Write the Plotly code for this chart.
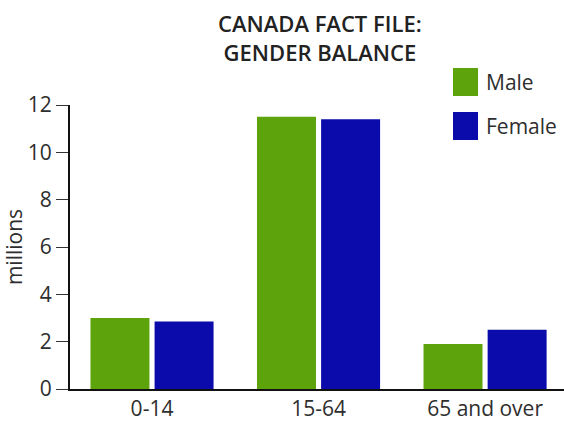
import plotly.graph_objects as go

categories = ["0-14", "15-64", "65 and over"]
male = [3.0, 11.5, 1.9]
female = [2.85, 11.4, 2.5]
y_ticks = [0, 2, 4, 6, 8, 10, 12]

GREEN = "#5ca30c"
BLUE = "#0b0bab"
FONT = "Open Sans"
TXT = "#2e2e2e"

fig = go.Figure()
fig.add_trace(go.Bar(x=categories, y=male, name="Male", marker=dict(color=GREEN, line=dict(width=0))))
fig.add_trace(go.Bar(x=categories, y=female, name="Female", marker=dict(color=BLUE, line=dict(width=0))))

fig.update_layout(
    width=564, height=424,
    margin=dict(l=70, r=0, t=105, b=35),
    paper_bgcolor="white", plot_bgcolor="white",
    barmode="group", bargap=0.23, bargroupgap=0.08,
    showlegend=False,
    font=dict(family=FONT, size=21, color=TXT),
    xaxis=dict(
        type="category", range=[-0.4925, 2.474],
        showline=True, linecolor="#111", linewidth=2,
        ticks="", showgrid=False, zeroline=False,
        tickfont=dict(size=21, color=TXT),
    ),
    yaxis=dict(
        range=[0, 12], tickvals=y_ticks,
        showline=True, linecolor="#111", linewidth=2,
        ticks="outside", ticklen=12, tickcolor="#333", tickwidth=1,
        showgrid=False, zeroline=False,
        tickfont=dict(size=21, color=TXT),
        title=dict(text="millions", font=dict(size=21, color=TXT), standoff=8),
    ),
)

# title
fig.add_annotation(
    text="CANADA FACT FILE:<br>GENDER BALANCE",
    xref="paper", yref="paper", x=(320 - 70) / 494, y=1 + (105 - 6) / 284,
    xanchor="center", yanchor="top", showarrow=False, align="center",
    font=dict(family=FONT, size=22, color="#222", weight=600),
)

# custom legend
def px_x(px):
    return (px - 70) / 494

def px_y(py):
    return (389 - py) / 284

for name, color, y0, y1 in [("Male", GREEN, 68, 96), ("Female", BLUE, 112, 140)]:
    fig.add_shape(type="rect", xref="paper", yref="paper",
                  x0=px_x(453), x1=px_x(478), y0=px_y(y1), y1=px_y(y0),
                  fillcolor=color, line=dict(width=0))
    fig.add_annotation(text=name, xref="paper", yref="paper",
                       x=px_x(484), y=px_y((y0 + y1) / 2),
                       xanchor="left", yanchor="middle", showarrow=False,
                       font=dict(family=FONT, size=21, color=TXT))

fig.write_html("out.html")
